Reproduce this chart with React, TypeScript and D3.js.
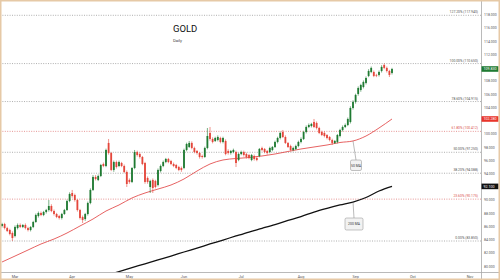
import React from 'react';
import * as d3 from 'd3';

// ---- data ----
const opens = [
  86.12, 86.42, 85.81, 85.51, 85.06, 84.61, 85.81, 86.27, 85.97, 86.27,
  85.81, 85.51, 85.97, 86.72, 87.63, 88.08, 87.78, 88.23, 88.53, 89.14,
  88.38, 87.93, 87.63, 87.33, 87.93, 88.53, 89.89, 91.10, 90.80, 90.04,
  88.53, 87.48, 87.17, 87.93, 89.59, 91.56, 93.52, 93.07, 93.67, 95.48,
  95.18, 98.66, 97.14, 94.58, 95.78, 95.18, 95.63, 95.18, 94.27, 93.07,
  92.77, 94.88, 97.29, 96.99, 96.54, 95.63, 93.37, 92.01, 93.07, 92.92,
  92.31, 94.42, 95.18, 95.78, 96.24, 95.93, 95.48, 95.33, 95.03, 94.88,
  94.88, 97.60, 98.05, 98.66, 97.90, 97.45, 97.14, 96.69, 96.54, 97.90,
  100.17, 99.26, 98.96, 99.11, 99.41, 98.81, 98.96, 97.45, 97.14, 97.29,
  97.29, 96.09, 96.99, 97.29, 96.99, 96.84, 96.09, 96.69, 96.39, 96.69,
  97.90, 97.75, 97.45, 97.29, 97.60, 98.05, 98.81, 99.41, 100.32, 99.56,
  98.66, 98.20, 97.60, 97.75, 98.20, 98.81, 99.26, 100.32, 101.07, 101.22,
  101.83, 101.68, 100.92, 100.32, 100.17, 99.86, 99.56, 99.11, 98.66, 98.81,
  99.71, 100.62, 101.07, 101.37, 101.83, 103.94, 104.85, 106.06, 106.66, 107.11,
  107.72, 108.78, 109.38, 109.38, 108.93, 108.93, 109.53, 110.44, 109.99, 109.53, 109.23,
];
const closes = [
  86.42, 85.81, 85.36, 84.91, 84.30, 85.97, 86.27, 85.97, 86.27, 85.81,
  85.51, 85.97, 86.72, 87.78, 88.08, 87.78, 88.23, 88.53, 89.14, 88.38,
  87.93, 87.48, 87.33, 87.93, 88.53, 89.89, 90.95, 90.65, 90.04, 88.53,
  87.33, 87.02, 87.93, 89.59, 91.56, 93.52, 93.22, 93.67, 95.33, 95.18,
  97.60, 97.14, 94.58, 95.78, 95.03, 95.78, 95.18, 94.27, 92.46, 92.77,
  94.88, 97.29, 96.84, 96.54, 95.48, 92.77, 92.77, 92.92, 91.86, 92.01,
  94.58, 95.18, 95.78, 96.24, 95.78, 95.48, 95.18, 94.88, 94.58, 94.58,
  97.60, 98.50, 98.66, 97.90, 97.29, 97.14, 96.54, 96.54, 97.90, 99.71,
  99.26, 98.81, 99.41, 99.56, 98.81, 99.41, 96.99, 97.14, 97.45, 97.60,
  95.63, 96.99, 97.29, 96.84, 96.54, 96.39, 96.84, 96.24, 96.09, 97.75,
  97.60, 97.29, 97.14, 97.90, 98.05, 98.81, 99.41, 100.17, 99.56, 98.66,
  98.05, 97.60, 97.90, 98.20, 98.81, 99.26, 100.32, 101.07, 101.37, 101.53,
  101.07, 100.92, 100.17, 99.86, 99.71, 99.41, 99.11, 98.66, 98.96, 99.86,
  100.62, 101.07, 101.37, 102.28, 103.94, 104.85, 105.91, 106.96, 107.41, 107.87,
  108.47, 109.53, 109.99, 108.78, 108.85, 109.38, 110.14, 109.99, 109.53, 108.93, 109.83,
];
const highs = [
  86.6, 86.6, 86.0, 85.7, 85.3, 86.2, 86.5, 86.5, 86.4, 86.5,
  86.0, 86.1, 86.9, 88.0, 88.3, 88.3, 88.4, 88.7, 90.04, 89.4,
  88.6, 88.1, 87.8, 88.1, 88.7, 90.1, 91.2, 91.56, 91.0, 90.2,
  88.7, 87.7, 88.1, 89.8, 91.8, 93.8, 93.8, 93.9, 95.5, 95.7,
  97.8, 99.26, 97.3, 96.0, 96.0, 96.0, 95.8, 95.4, 94.5, 93.3,
  95.0, 97.6, 97.5, 97.2, 96.7, 95.8, 93.6, 93.1, 93.3, 93.1,
  94.8, 95.4, 96.0, 96.4, 96.4, 96.1, 95.7, 95.5, 95.2, 95.1,
  97.8, 98.7, 98.96, 98.9, 98.1, 97.6, 97.3, 96.9, 98.1, 100.92,
  101.07, 99.5, 99.6, 99.8, 99.6, 99.6, 99.2, 97.7, 97.6, 97.8,
  97.5, 97.2, 97.5, 97.5, 97.2, 97.0, 97.0, 96.9, 96.6, 97.9,
  98.1, 97.9, 97.6, 98.1, 98.2, 99.0, 99.6, 100.4, 100.62, 99.8,
  98.8, 98.4, 98.1, 98.4, 99.0, 99.5, 100.5, 101.3, 101.6, 101.7,
  102.28, 101.9, 101.1, 100.5, 100.4, 100.0, 99.7, 99.3, 99.1, 100.0,
  100.8, 101.3, 101.6, 102.5, 104.2, 105.1, 106.1, 107.2, 107.6, 108.1,
  108.7, 109.8, 110.2, 109.6, 109.1, 109.6, 110.4, 110.65, 110.2, 109.7, 110.0,
];
const lows = [
  85.9, 85.6, 85.2, 84.7, 83.85, 84.4, 85.6, 85.8, 85.8, 85.6,
  85.3, 85.3, 85.8, 86.6, 87.4, 87.6, 87.6, 88.0, 88.3, 88.2,
  87.7, 87.3, 87.1, 87.1, 87.8, 88.4, 89.7, 90.4, 89.8, 88.3,
  87.1, 86.57, 86.9, 87.7, 89.4, 91.4, 93.0, 92.9, 93.5, 95.0,
  95.0, 96.9, 94.4, 94.3, 94.8, 95.0, 95.0, 94.1, 92.01, 92.5,
  92.6, 94.7, 96.6, 96.3, 95.3, 92.5, 92.5, 91.10, 91.1, 91.8,
  92.1, 94.2, 95.0, 95.6, 95.6, 95.3, 95.0, 94.7, 94.4, 94.3,
  94.7, 97.4, 97.9, 97.7, 97.1, 96.9, 96.3, 96.3, 96.4, 97.7,
  99.0, 98.6, 98.8, 98.9, 98.6, 98.6, 96.8, 96.9, 96.9, 97.1,
  95.03, 95.9, 96.8, 96.6, 96.3, 96.2, 95.9, 96.0, 95.9, 96.5,
  97.4, 97.1, 96.9, 97.1, 97.4, 97.9, 98.6, 99.2, 99.4, 98.5,
  97.9, 97.4, 97.4, 97.6, 98.0, 98.6, 99.1, 100.1, 100.9, 101.0,
  100.9, 100.7, 100.0, 99.7, 99.5, 99.2, 98.9, 98.35, 98.5, 98.6,
  99.5, 100.4, 100.9, 101.2, 101.6, 103.7, 104.6, 105.8, 106.4, 106.9,
  107.5, 108.6, 109.2, 108.6, 108.6, 108.7, 109.3, 109.8, 109.3, 108.62, 109.0,
];
// moving averages read every 5th session
const ma50Start = 0;
const ma50 = [
  80.68, 81.58, 82.49, 83.40, 84.15, 85.06, 86.12, 87.17, 88.38, 89.29,
  90.35, 91.10, 91.70, 92.31, 93.22, 94.42, 95.48, 96.09, 96.31, 96.46,
  96.69, 96.99, 97.37, 97.75, 98.05, 98.35, 98.73, 98.96, 99.71, 100.92, 102.28,
];
const ma200Start = 40;
const ma200 = [
  78.64, 79.23, 79.82, 80.41, 81.00, 81.58, 82.19, 82.79, 83.40, 84.00,
  84.61, 85.21, 85.77, 86.34, 86.95, 87.55, 88.23, 88.79, 89.29, 89.74,
  90.42, 91.40, 92.10,
];
const fibLow = 83.85;
const fibHigh = 110.65;
const fibRatios = [1.272, 1, 0.786, 0.618, 0.5, 0.382, 0.236, 0];
const fibRed = [0.618, 0.236];
const priceTicks = d3.range(80, 119, 2);
const title = 'GOLD';
const subtitle = 'Daily';

// trading sessions (weekdays) from 24 Feb 2020
const sessions = d3
  .utcDay.range(new Date(Date.UTC(2020, 1, 24)), new Date(Date.UTC(2020, 10, 30)))
  .filter((d) => d.getUTCDay() !== 0 && d.getUTCDay() !== 6);

export default function App() {
  React.useEffect(() => {
    document.body.style.margin = '0';
  }, []);
  const W = 500;
  const H = 280;
  const plotR = 481;
  const plotB = 272;
  const x = d3.scaleLinear().domain([0, closes.length - 1]).range([2, 392]);
  const y = d3.scaleLinear().domain([79.17, 120.25]).range([plotB, 0]);
  const green = '#1f7a32';
  const red = '#e4463b';
  const font = 'Roboto, "DejaVu Sans", sans-serif';

  const monthTicks = sessions
    .map((d, i) => ({ d, i }))
    .filter(({ d, i }) => i > 0 && d.getUTCMonth() !== sessions[i - 1].getUTCMonth())
    .filter(({ i }) => x(i) < plotR - 5);
  const fmtMonth = d3.utcFormat('%b');
  const f3 = d3.format('.3f');

  const line = d3
    .line<[number, number]>()
    .x((d) => x(d[0]))
    .y((d) => y(d[1]))
    .curve(d3.curveMonotoneX);
  const ma50Pts: [number, number][] = ma50.map((v, j) => [ma50Start + 5 * j, v]);
  const ma200Pts: [number, number][] = ma200.map((v, j) => [ma200Start + 5 * j, v]);

  const lastClose = closes[closes.length - 1];
  const last50 = ma50[ma50.length - 1];
  const last200 = ma200[ma200.length - 1];
  const tagValues = [lastClose, last50, last200];
  // tick labels hidden behind the value tags (as in the reference)
  const visibleTicks = priceTicks.filter((t) => tagValues.every((v) => Math.abs(y(t) - y(v)) > 4.5));

  const tag = (v: number, fill: string) => (
    <g key={fill}>
      <rect x={plotR + 0.5} y={y(v) - 2.8} width={17} height={5.6} fill={fill} />
      <text x={plotR + 2.5} y={y(v) + 1.3} fontSize={3.6} fill="#fff" fontFamily={font}>
        {f3(v)}
      </text>
    </g>
  );

  // annotation anchors on the MA lines
  const a50x = x(135);
  const a50y = y(ma50[27]);
  const a200x = x(135);
  const a200y = y(ma200[19]);

  return (
    <svg width={W} height={H} style={{ position: 'absolute', left: 0, top: 0, background: '#fff' }}>
      <defs>
        <clipPath id="plot">
          <rect x={0} y={0} width={plotR} height={plotB} />
        </clipPath>
      </defs>
      <rect x={0} y={0} width={W} height={H} fill="#fff" />

      {/* fibonacci levels */}
      {fibRatios.map((r) => {
        const v = fibLow + (fibHigh - fibLow) * r;
        const isRed = fibRed.includes(r);
        return (
          <g key={r}>
            <line
              x1={0}
              x2={plotR}
              y1={y(v)}
              y2={y(v)}
              stroke={isRed ? '#e07a78' : '#9a9a9a'}
              strokeWidth={0.8}
              strokeDasharray="1,1.4"
            />
            <text
              x={plotR - 3}
              y={y(v) - 2}
              textAnchor="end"
              fontSize={3.4}
              fill={isRed ? '#d9534f' : '#555'}
              fontFamily={font}
            >
              {`${(r * 100).toFixed(2)}% (${f3(v)})`}
            </text>
          </g>
        );
      })}

      {/* title */}
      <text x={173} y={32.3} fontSize={9.5} fill="#111" fontFamily={font}>
        {title}
      </text>
      <text x={173} y={41.8} fontSize={4.2} fill="#444" fontFamily={font}>
        {subtitle}
      </text>

      <g clipPath="url(#plot)">
        <path d={line(ma50Pts) || ''} fill="none" stroke="#e03a3a" strokeWidth={0.8} />
        <path d={line(ma200Pts) || ''} fill="none" stroke="#111" strokeWidth={1.3} />
        {closes.map((c, i) => {
          const o = opens[i];
          const up = c >= o;
          const col = up ? green : red;
          const top = y(Math.max(o, c));
          const h = Math.max(0.7, Math.abs(y(o) - y(c)));
          return (
            <g key={i}>
              <line x1={x(i)} x2={x(i)} y1={y(highs[i])} y2={y(lows[i])} stroke={col} strokeWidth={0.6} />
              <rect x={x(i) - 0.9} y={top} width={1.8} height={h} fill={col} />
            </g>
          );
        })}
      </g>

      {/* MA callouts */}
      <line x1={a50x} y1={a50y} x2={356} y2={160} stroke="#777" strokeWidth={0.5} />
      <rect x={350.5} y={160} width={11} height={10.5} rx={1.5} fill="#f2f2f2" stroke="#888" strokeWidth={0.5} />
      <text x={356} y={166.5} textAnchor="middle" fontSize={3.4} fill="#333" fontFamily={font}>
        50 MA
      </text>
      <line x1={a200x} y1={a200y} x2={354} y2={218} stroke="#777" strokeWidth={0.5} />
      <rect x={345} y={218} width={18} height={12} rx={1.5} fill="#f2f2f2" stroke="#888" strokeWidth={0.5} />
      <text x={354} y={225.3} textAnchor="middle" fontSize={3.4} fill="#333" fontFamily={font}>
        200 MA
      </text>

      {/* axes */}
      <line x1={0} x2={W} y1={plotB + 0.5} y2={plotB + 0.5} stroke="#a8a8a8" strokeWidth={0.8} />
      <line x1={plotR + 0.5} x2={plotR + 0.5} y1={0} y2={H} stroke="#a8a8a8" strokeWidth={0.8} />
      {monthTicks.map(({ d, i }) => (
        <text key={i} x={x(i)} y={278} textAnchor="middle" fontSize={3.8} fill="#555" fontFamily={font}>
          {fmtMonth(d)}
        </text>
      ))}
      {visibleTicks.map((t) => (
        <text key={t} x={plotR + 3} y={y(t) + 1.2} fontSize={3.5} fill="#555" fontFamily={font}>
          {f3(t)}
        </text>
      ))}
      {tag(lastClose, green)}
      {tag(last50, '#e8352b')}
      {tag(last200, '#111')}

      {/* frame */}
      <rect x={0.75} y={0.75} width={W - 1.5} height={H - 1.5} fill="none" stroke="#e6c9a6" strokeWidth={1.5} />
    </svg>
  );
}
